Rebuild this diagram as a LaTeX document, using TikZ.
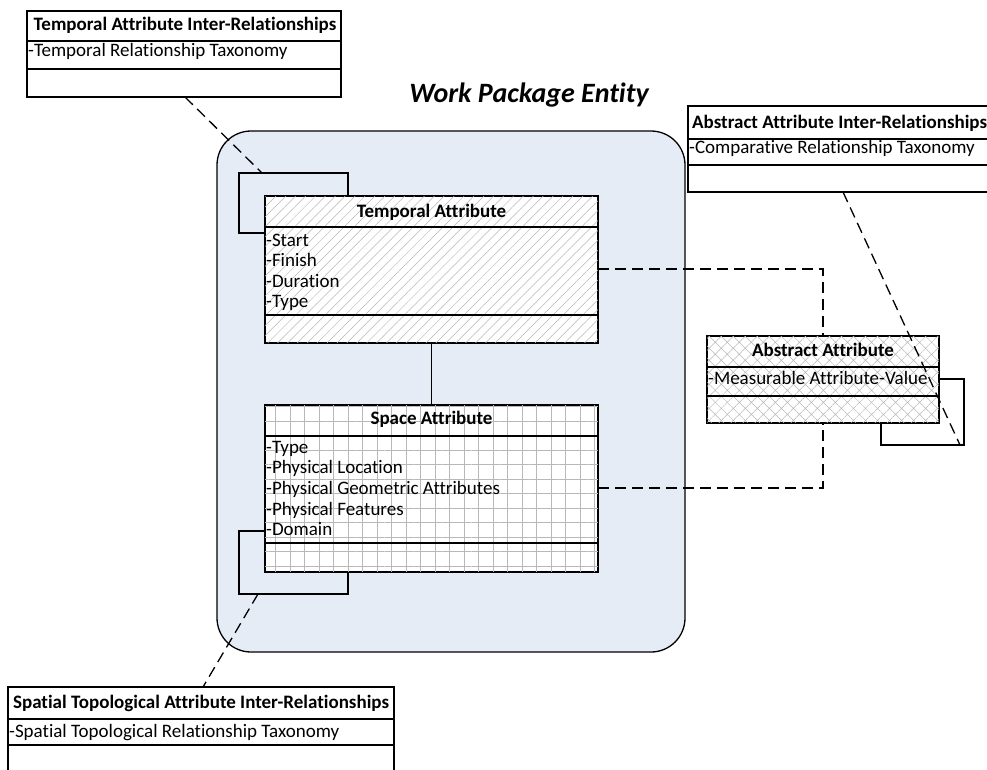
\documentclass[tikz,border=0pt]{standalone}
\usepackage{fontspec}
\setmainfont[Ligatures=NoCommon]{Carlito}
\usetikzlibrary{patterns.meta}
\definecolor{wpblue}{HTML}{E6ECF6}
\definecolor{hatchgray}{HTML}{B8B8B8}
\tikzset{
  boxline/.style={draw=black, line width=1.3pt},
  umlbox/.style={boxline, rectangle, inner sep=0pt, fill=white},
  txt/.style={inner sep=0pt, font=\fontsize{19}{22}\selectfont},
  hdr/.style={inner sep=0pt, font=\fontsize{19}{22}\selectfont\bfseries},
  dashconn/.style={draw=black, line width=1.3pt, dash pattern=on 11pt off 6pt},
  solidconn/.style={draw=black, line width=1.3pt},
}
\begin{document}
\begin{tikzpicture}[x=1pt,y=-1pt]
\useasboundingbox (0,0) rectangle (987,769);

% Work package entity
\node[boxline, fill=wpblue, rounded corners=34pt, minimum width=468pt, minimum height=521pt, inner sep=0pt] (wp) at (451,391.5) {};
\node[inner sep=0pt, anchor=base, font=\fontsize{28}{32}\selectfont\bfseries\itshape] (wptitle) at (529,102) {Work Package Entity};

% Temporal Attribute Inter-Relationships
\node[umlbox, minimum width=314pt, minimum height=86pt] (tir) at (184,54) {};
\draw[boxline] (27,41) -- (341,41) (27,69) -- (341,69);
\node[hdr, anchor=base] (tirh) at (185,30) {Temporal Attribute Inter-Relationships};
\node[txt, anchor=base west] (tirr) at (28,56) {-Temporal Relationship Taxonomy};

% Abstract Attribute Inter-Relationships
\node[umlbox, minimum width=302pt, minimum height=86pt] (air) at (839,149) {};
\draw[boxline] (688,139) -- (990,139) (688,165) -- (990,165);
\node[hdr, anchor=base west] (airh) at (692,128) {Abstract Attribute Inter-Relationships};
\node[txt, anchor=base west] (airr) at (689,153) {-Comparative Relationship Taxonomy};

% Spatial Topological Attribute Inter-Relationships
\node[umlbox, minimum width=386pt, minimum height=88pt] (sir) at (201,731) {};
\draw[boxline] (8,719) -- (394,719) (8,745) -- (394,745);
\node[hdr, anchor=base] (sirh) at (201,708) {Spatial Topological Attribute Inter-Relationships};
\node[txt, anchor=base west] (sirr) at (9,737) {-Spatial Topological Relationship Taxonomy};

% Temporal Attribute
\coordinate (tl1) at (348,196);
\coordinate (tl2) at (348,173);
\coordinate (tl3) at (239,173);
\coordinate (tl4) at (239,233);
\coordinate (tl5) at (265,233);
\draw[solidconn] (tl1) -- (tl2) -- (tl3) -- (tl4) -- (tl5);
\node[umlbox, minimum width=333pt, minimum height=147pt,
      postaction={pattern={Lines[angle=45,distance=7pt,line width=0.5pt]}, pattern color=hatchgray}] (ta) at (431.5,269.5) {};
\draw[boxline] (ta.north west) rectangle (ta.south east);
\draw[boxline] (265,227) -- (598,227) (265,315) -- (598,315);
\node[hdr, anchor=base] (tah) at (431.5,217) {Temporal Attribute};
\node[txt, anchor=base west] (ta1) at (266,246) {-Start};
\node[txt, anchor=base west] (ta2) at (266,266.5) {-Finish};
\node[txt, anchor=base west] (ta3) at (266,287) {-Duration};
\node[txt, anchor=base west] (ta4) at (266,307.5) {-Type};

% Space Attribute
\coordinate (sl1) at (265,531);
\coordinate (sl2) at (239,531);
\coordinate (sl3) at (239,594);
\coordinate (sl4) at (348,594);
\coordinate (sl5) at (348,572);
\draw[solidconn] (sl1) -- (sl2) -- (sl3) -- (sl4) -- (sl5);
\node[umlbox, minimum width=333pt, minimum height=167pt,
      postaction={pattern={Hatch[angle=0,distance=14.5pt,line width=0.5pt]}, pattern color=hatchgray}] (sa) at (431.5,488.5) {};
\draw[boxline] (sa.north west) rectangle (sa.south east);
\draw[boxline] (265,436) -- (598,436) (265,543) -- (598,543);
\node[hdr, anchor=base] (sah) at (431.5,424) {Space Attribute};
\node[txt, anchor=base west] (sa1) at (266,453) {-Type};
\node[txt, anchor=base west] (sa2) at (266,473.7) {-Physical Location};
\node[txt, anchor=base west] (sa3) at (266,494.4) {-Physical Geometric Attributes};
\node[txt, anchor=base west] (sa4) at (266,515.1) {-Physical Features};
\node[txt, anchor=base west] (sa5) at (266,535.8) {-Domain};

% Abstract Attribute
\coordinate (al1) at (939,379);
\coordinate (al2) at (964,379);
\coordinate (al3) at (964,445);
\coordinate (al4) at (881,445);
\coordinate (al5) at (881,423);
\draw[solidconn] (al1) -- (al2) -- (al3) -- (al4) -- (al5);
\node[umlbox, minimum width=232pt, minimum height=87pt,
      postaction={pattern={Hatch[angle=45,distance=8.5pt,line width=0.5pt]}, pattern color=hatchgray}] (aa) at (823,379.5) {};
\draw[boxline] (aa.north west) rectangle (aa.south east);
\draw[boxline] (707,367) -- (939,367) (707,396) -- (939,396);
\node[hdr, anchor=base] (aah) at (823,356) {Abstract Attribute};
\node[txt, anchor=base west] (aa1) at (708,384) {-Measurable Attribute-Value};

% Connectors
\draw[solidconn] (ta.south) -- (sa.north);
\coordinate (tae) at (598,269);
\coordinate (tac) at (823,269);
\draw[dashconn] (tae) -- (tac) -- (aa.north);
\coordinate (sae) at (598,488);
\coordinate (sac) at (823,488);
\draw[dashconn] (sae) -- (sac) -- (aa.south);
\coordinate (tirb) at (185,97);
\coordinate (tlt) at (262,173);
\draw[dashconn] (tirb) -- (tlt);
\coordinate (airb) at (843,192);
\coordinate (alc) at (960,445);
\draw[dashconn] (airb) -- (alc);
\coordinate (slb) at (258,594);
\coordinate (sirt) at (203,687);
\draw[dashconn] (slb) -- (sirt);
\end{tikzpicture}
\end{document}
